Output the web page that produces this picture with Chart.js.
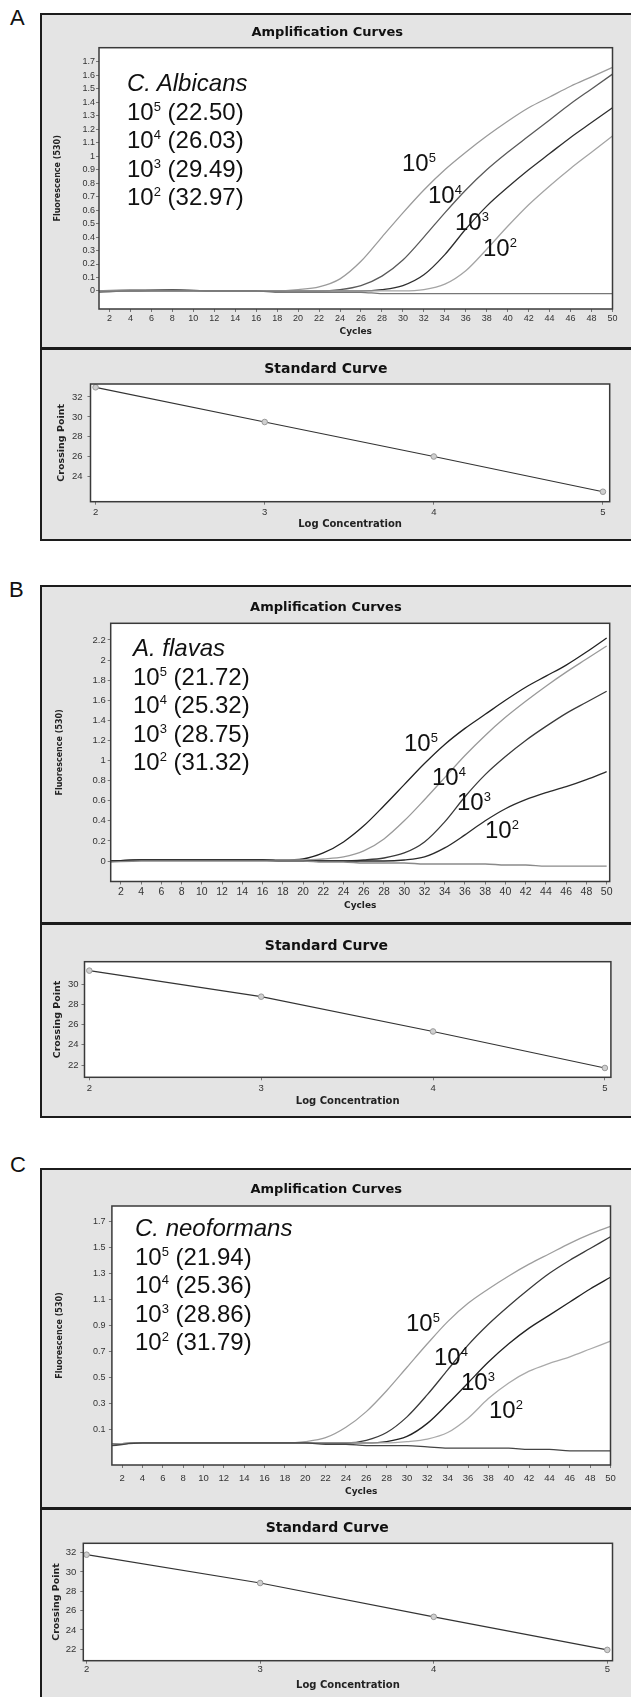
<!DOCTYPE html>
<html><head><meta charset="utf-8">
<script src="https://cdn.jsdelivr.net/npm/chart.js@4.4.1/dist/chart.umd.min.js"></script>
<style>
html,body{margin:0;padding:0;background:#fff;}
body{position:relative;width:631px;height:1697px;overflow:hidden;font-family:"Liberation Sans",Arial,sans-serif;}
.frame{position:absolute;box-sizing:border-box;border:2px solid #1c1c1c;background:#e4e4e4;width:640px;left:40px;}
.sep{position:absolute;left:40px;width:640px;height:3px;background:#1c1c1c;}
.letter{position:absolute;font-size:22px;line-height:22px;color:#111;}
canvas{position:absolute;left:42px;}
.anno{position:absolute;font-size:24px;color:#111;white-space:nowrap;}
.anno div{height:28.5px;line-height:28.5px;}
.sup{font-size:13px;position:relative;top:-9px;}
.clab{position:absolute;font-size:24px;line-height:28.5px;color:#111;white-space:nowrap;}
</style></head><body>

<div class="letter" style="left:10px;top:7px">A</div>
<div class="frame" style="top:13px;height:528px"></div>
<div class="sep" style="top:347px"></div>
<canvas id="ampA" width="589" height="332" style="top:15px"></canvas>
<canvas id="stdA" width="589" height="190" style="top:350px"></canvas>

<div class="letter" style="left:9px;top:579px">B</div>
<div class="frame" style="top:585px;height:533px"></div>
<div class="sep" style="top:922px"></div>
<canvas id="ampB" width="589" height="335" style="top:587px"></canvas>
<canvas id="stdB" width="589" height="192" style="top:925px"></canvas>

<div class="letter" style="left:10px;top:1154px">C</div>
<div class="frame" style="top:1168px;height:600px"></div>
<div class="sep" style="top:1507px"></div>
<canvas id="ampC" width="589" height="337" style="top:1170px"></canvas>
<canvas id="stdC" width="589" height="187" style="top:1510px"></canvas>

<div class="anno" id="annoA" style="left:127px;top:69px"></div>
<div class="anno" id="annoB" style="left:133px;top:634px"></div>
<div class="anno" id="annoC" style="left:135px;top:1214px"></div>
<div id="labels"></div>

<script>
// ================= DATA =================
const cycles = [1, 4, 8, 12, 16, 18, 20, 22, 24, 26, 28, 30, 32, 34, 36, 38, 40, 42, 44, 46, 48, 50];
const ampTicksX = [2,4,6,8,10,12,14,16,18,20,22,24,26,28,30,32,34,36,38,40,42,44,46,48,50];
const ampTicksYA = [0,0.1,0.2,0.3,0.4,0.5,0.6,0.7,0.8,0.9,1,1.1,1.2,1.3,1.4,1.5,1.6,1.7];
const ampTicksYB = [0,0.2,0.4,0.6,0.8,1,1.2,1.4,1.6,1.8,2,2.2];
const ampTicksYC = [0.1,0.3,0.5,0.7,0.9,1.1,1.3,1.5,1.7];
const stdTicksX = [2,3,4,5];
const stdTicksYA = [24,26,28,30,32];
const stdTicksYB = [22,24,26,28,30];
const stdTicksYC = [22,24,26,28,30,32];

// log concentration (10^2 .. 10^5) and crossing points
const logConc = [2, 3, 4, 5];
const cpA = [32.97, 29.49, 26.03, 22.50];
const cpB = [31.32, 28.75, 25.32, 21.72];
const cpC = [31.79, 28.86, 25.36, 21.94];
const speciesA = 'C. Albicans';
const speciesB = 'A. flavas';
const speciesC = 'C. neoformans';

// Panel A fluorescence (530) per cycle
const ampA_1e5 = [0.00,0.01,0.01,0.00,0.00,0.00,0.01,0.03,0.09,0.22,0.40,0.58,0.75,0.90,1.03,1.15,1.26,1.36,1.44,1.52,1.59,1.66];
const ampA_1e4 = [0.00,0.00,0.01,0.00,0.00,0.00,0.00,0.00,0.01,0.04,0.11,0.23,0.40,0.58,0.75,0.90,1.03,1.15,1.27,1.39,1.50,1.61];
const ampA_1e3 = [0.00,0.00,0.00,0.00,0.00,0.00,0.00,0.00,0.00,0.00,0.01,0.04,0.12,0.27,0.46,0.63,0.77,0.90,1.02,1.14,1.25,1.36];
const ampA_1e2 = [0.00,0.00,0.00,0.00,0.00,0.00,0.00,0.00,0.00,0.00,0.00,0.00,0.01,0.05,0.15,0.31,0.48,0.64,0.78,0.91,1.03,1.15];
const ampA_neg = [-0.01,0.00,0.00,0.00,0.00,-0.01,-0.01,-0.01,-0.01,-0.01,-0.02,-0.02,-0.02,-0.02,-0.02,-0.02,-0.02,-0.02,-0.02,-0.02,-0.02,-0.02];

// Panel B
const ampB_1e5 = [0.00,0.01,0.01,0.01,0.01,0.01,0.02,0.08,0.19,0.35,0.55,0.76,0.97,1.16,1.32,1.46,1.60,1.73,1.84,1.95,2.08,2.22];
const ampB_1e4 = [0.00,0.01,0.01,0.01,0.01,0.01,0.01,0.02,0.04,0.10,0.22,0.40,0.61,0.83,1.05,1.25,1.43,1.59,1.74,1.88,2.01,2.14];
const ampB_1e3 = [0.00,0.01,0.01,0.01,0.01,0.00,0.00,0.00,0.00,0.01,0.03,0.08,0.19,0.39,0.64,0.86,1.04,1.20,1.34,1.47,1.58,1.69];
const ampB_1e2 = [0.00,0.01,0.01,0.01,0.01,0.00,0.00,0.00,0.00,0.00,0.00,0.01,0.04,0.13,0.26,0.40,0.52,0.61,0.68,0.74,0.81,0.89];
const ampB_neg = [-0.01,0.00,0.00,0.00,0.00,0.00,0.00,-0.01,-0.01,-0.02,-0.02,-0.02,-0.03,-0.03,-0.03,-0.03,-0.04,-0.04,-0.05,-0.05,-0.05,-0.05];

// Panel C
const ampC_1e5 = [-0.01,0.00,0.00,0.00,0.00,0.00,0.01,0.04,0.12,0.24,0.40,0.58,0.76,0.93,1.07,1.18,1.28,1.37,1.45,1.53,1.60,1.66];
const ampC_1e4 = [-0.01,0.00,0.00,0.00,0.00,0.00,0.00,0.00,0.00,0.02,0.08,0.20,0.37,0.56,0.75,0.91,1.05,1.18,1.30,1.40,1.49,1.58];
const ampC_1e3 = [-0.01,0.00,0.00,0.00,0.00,0.00,0.00,0.00,0.00,0.00,0.01,0.05,0.15,0.30,0.46,0.62,0.76,0.88,0.98,1.08,1.18,1.27];
const ampC_1e2 = [-0.01,0.00,0.00,0.00,0.00,0.00,0.00,0.00,0.00,0.00,0.00,0.01,0.03,0.08,0.19,0.34,0.46,0.55,0.61,0.66,0.72,0.78];
const ampC_neg = [-0.02,0.00,0.00,0.00,0.00,0.00,0.00,-0.01,-0.01,-0.02,-0.02,-0.02,-0.03,-0.04,-0.04,-0.04,-0.04,-0.05,-0.05,-0.06,-0.06,-0.06];

// ================= RENDERING =================
const plotFrame = {
  id: 'plotFrame',
  beforeDraw(chart) {
    const {ctx, chartArea: a} = chart;
    ctx.save(); ctx.fillStyle = '#fff';
    ctx.fillRect(a.left, a.top, a.right - a.left, a.bottom - a.top);
    ctx.restore();
  },
  afterDatasetsDraw(chart) {
    const {ctx, chartArea: a} = chart;
    ctx.save(); ctx.strokeStyle = '#3a3a3a'; ctx.lineWidth = 1.5;
    ctx.strokeRect(a.left, a.top, a.right - a.left, a.bottom - a.top);
    ctx.restore();
  }
};

const fmt = v => String(Math.round(v * 10) / 10);

function axisCommon(ticksArr, fontSize, pad) {
  return {
    type: 'linear',
    afterBuildTicks: s => { s.ticks = ticksArr.map(v => ({value: v})); },
    ticks: {font: {family: 'Liberation Sans', size: fontSize}, color: '#333', padding: pad, autoSkip: false, maxRotation: 0, minRotation: 0, callback: fmt},
    grid: {drawOnChartArea: false, drawTicks: true, tickLength: 3, color: '#777'},
    border: {display: false}
  };
}

function makeChart(id, o) {
  const x = axisCommon(o.xTicks, o.xFont, o.xPad);
  x.min = o.xMin; x.max = o.xMax;
  x.afterFit = s => { s.height = o.xH; s.paddingLeft = 0; s.paddingRight = 0; };
  x.title = {display: true, text: o.xTitle, color: '#222', font: {family: 'DejaVu Sans', weight: 'bold', size: o.xTitleSize}, padding: {top: 0, bottom: o.xTitlePad}};
  const y = axisCommon(o.yTicks, o.yFont, o.yPad);
  y.min = o.yMin; y.max = o.yMax;
  y.afterFit = s => { s.width = o.yW; s.paddingTop = 0; s.paddingBottom = 0; };
  y.title = {display: true, text: o.yTitle, color: '#222', font: {family: 'DejaVu Sans', weight: 'bold', size: o.yTitleSize}, padding: {top: o.yTitlePad, bottom: 0}};
  new Chart(document.getElementById(id), {
    type: 'line',
    data: {datasets: o.datasets},
    options: {
      responsive: false, animation: false, events: [],
      layout: {padding: {left: 0, top: 0, right: o.padR, bottom: 0}},
      plugins: {
        legend: {display: false}, tooltip: {enabled: false},
        title: {display: true, text: o.title, color: '#111', font: {family: 'DejaVu Sans', weight: 'bold', size: o.titleSize}, padding: {top: o.tTop, bottom: o.tBot}}
      },
      scales: {x, y}
    },
    plugins: [plotFrame]
  });
}

function curve(vals, color) {
  return {data: cycles.map((c, i) => ({x: c, y: vals[i]})), borderColor: color, borderWidth: 1.3, pointRadius: 0, cubicInterpolationMode: 'monotone', fill: false};
}
function stdSet(cps) {
  return [{data: logConc.map((v, i) => ({x: v, y: cps[i]})), borderColor: '#333', borderWidth: 1.2, pointRadius: 2.8, pointBackgroundColor: '#cfcfcf', pointBorderColor: '#9a9a9a', pointBorderWidth: 1, tension: 0, fill: false, clip: false}];
}

const ampBase = {title: 'Amplification Curves', titleSize: 13, xTitle: 'Cycles', xTitleSize: 9, yTitle: 'Fluorescence (530)', yTitleSize: 8, xTicks: ampTicksX, xMin: 1};
const stdBase = {title: 'Standard Curve', titleSize: 14, xTitle: 'Log Concentration', xTitleSize: 10, yTitle: 'Crossing Point', yTitleSize: 9.5, xTicks: stdTicksX};

makeChart('ampA', Object.assign({}, ampBase, {
  datasets: [curve(ampA_neg, '#777'), curve(ampA_1e2, '#a5a5a5'), curve(ampA_1e3, '#2e2e2e'), curve(ampA_1e4, '#5a5a5a'), curve(ampA_1e5, '#9b9b9b')],
  xMax: 50, yMin: -0.134, yMax: 1.806, yTicks: ampTicksYA,
  padR: 18.5, tTop: 10.2, tBot: 6.9, xH: 38, yW: 57,
  xFont: 9, xPad: 1.1, xTitlePad: 9.6, yFont: 9, yPad: 1, yTitlePad: 11.2
}));
makeChart('stdA', Object.assign({}, stdBase, {
  datasets: stdSet(cpA),
  xMin: 1.97, xMax: 5.04, yMin: 21.5, yMax: 33.3, yTicks: stdTicksYA,
  padR: 21.3, tTop: 10.6, tBot: 6.6, xH: 38.3, yW: 48.5,
  xFont: 9.5, xPad: 1.6, xTitlePad: 10, yFont: 9.5, yPad: 5, yTitlePad: 14.3
}));
makeChart('ampB', Object.assign({}, ampBase, {
  datasets: [curve(ampB_neg, '#8a8a8a'), curve(ampB_1e2, '#2a2a2a'), curve(ampB_1e3, '#3a3a3a'), curve(ampB_1e4, '#9a9a9a'), curve(ampB_1e5, '#222')],
  xMax: 50.3, yMin: -0.204, yMax: 2.366, yTicks: ampTicksYB,
  padR: 21.3, tTop: 12.9, tBot: 7.8, xH: 40.5, yW: 68.7,
  xFont: 10.5, xPad: 1.8, xTitlePad: 10.6, yFont: 9.5, yPad: 2, yTitlePad: 13.2
}));
makeChart('stdB', Object.assign({}, stdBase, {
  datasets: stdSet(cpB),
  xMin: 1.972, xMax: 5.035, yMin: 20.8, yMax: 32.2, yTicks: stdTicksYB,
  padR: 20.1, tTop: 13.3, tBot: 6.6, xH: 39.7, yW: 42.5,
  xFont: 9.5, xPad: 2.6, xTitlePad: 9.3, yFont: 9.5, yPad: 3, yTitlePad: 10.3
}));
makeChart('ampC', Object.assign({}, ampBase, {
  datasets: [curve(ampC_neg, '#444'), curve(ampC_1e2, '#aaaaaa'), curve(ampC_1e3, '#222'), curve(ampC_1e4, '#3a3a3a'), curve(ampC_1e5, '#9e9e9e')],
  xMax: 50, yMin: -0.169, yMax: 1.816, yTicks: ampTicksYC,
  padR: 20.5, tTop: 12.2, tBot: 8.2, xH: 42, yW: 69.9,
  xFont: 9.5, xPad: 4.9, xTitlePad: 9.9, yFont: 9, yPad: 3.5, yTitlePad: 13.2
}));
makeChart('stdC', Object.assign({}, stdBase, {
  datasets: stdSet(cpC),
  xMin: 1.981, xMax: 5.03, yMin: 20.82, yMax: 32.97, yTicks: stdTicksYC,
  padR: 18.5, tTop: 9.9, tBot: 6.6, xH: 36.3, yW: 41.3,
  xFont: 9.5, xPad: 0.2, xTitlePad: 6, yFont: 9.5, yPad: 4, yTitlePad: 9.3
}));

// ---- annotation blocks (text from the data arrays) ----
function buildAnno(id, species, cps) {
  let html = '<div><i>' + species + '</i></div>';
  for (let i = logConc.length - 1; i >= 0; i--) {
    html += '<div>10<span class="sup">' + logConc[i] + '</span> (' + cps[i].toFixed(2) + ')</div>';
  }
  document.getElementById(id).innerHTML = html;
}
buildAnno('annoA', speciesA, cpA);
buildAnno('annoB', speciesB, cpB);
buildAnno('annoC', speciesC, cpC);

// ---- curve labels (page positions) ----
const labelPos = [
  [[402,149],[428,181],[455,208],[483,234]],
  [[404,729],[432,763],[457,788],[485,816]],
  [[406,1309],[434,1343],[461,1368],[489,1396]]
];
let lh = '';
labelPos.forEach(panel => {
  panel.forEach((p, k) => {
    const e = logConc[logConc.length - 1 - k];
    lh += '<div class="clab" style="left:' + p[0] + 'px;top:' + p[1] + 'px">10<span class="sup">' + e + '</span></div>';
  });
});
document.getElementById('labels').innerHTML = lh;
</script>
</body></html>
